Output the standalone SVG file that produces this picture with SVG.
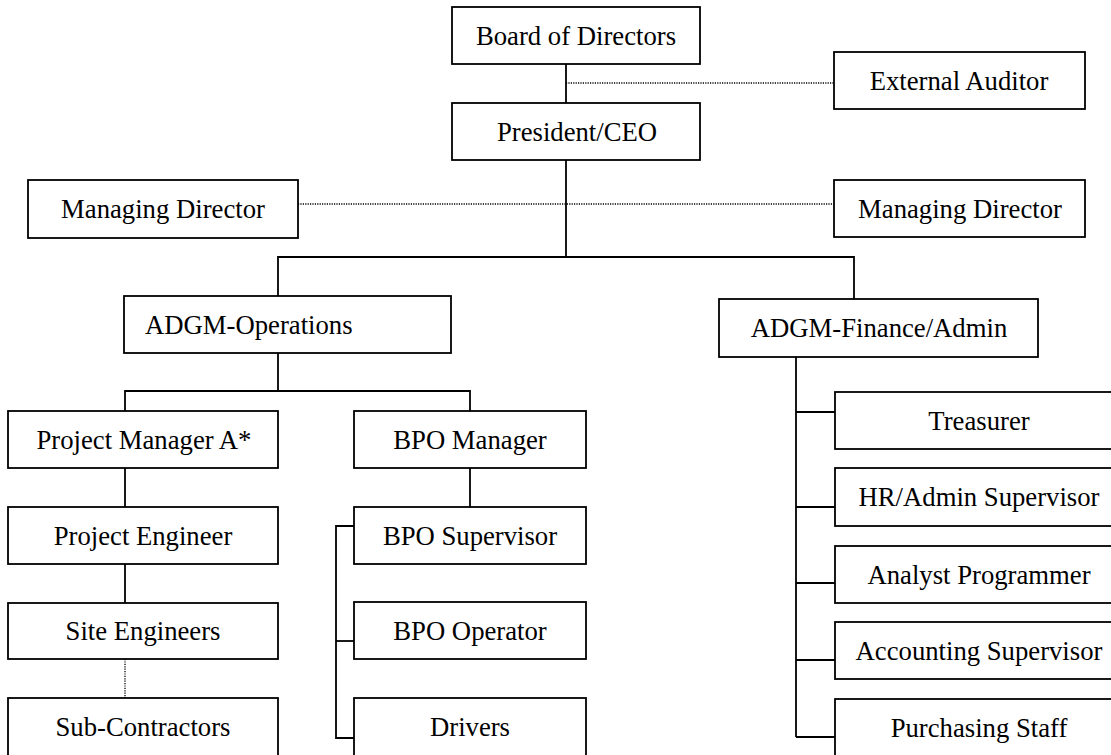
<svg xmlns="http://www.w3.org/2000/svg" width="1111" height="755" viewBox="0 0 1111 755">
  <style>
    .box { fill: #ffffff; stroke: #000000; stroke-width: 1.8; }
    .lbl { font-family: "Liberation Serif", "Times New Roman", serif; font-size: 26.7px; fill: #000000; text-anchor: middle; }
    .line { fill: none; stroke: #000000; stroke-width: 1.8; }
    .dot { fill: none; stroke: #000000; stroke-width: 1.3; stroke-dasharray: 1.2 1.2; }
  </style>
  <rect width="1111" height="755" fill="#ffffff"/>

  <!-- connectors -->
  <g id="connectors">
    <path class="line" d="M566 64 V103"/>
    <path class="dot" d="M566 83 H834"/>
    <path class="line" d="M566 160 V257"/>
    <path class="dot" d="M298 204 H834"/>
    <path class="line" d="M278 296 V257 H854 V299"/>
    <path class="line" d="M278 353 V391"/>
    <path class="line" d="M125 411 V391 H470 V411"/>
    <path class="line" d="M125 468 V507"/>
    <path class="line" d="M125 564 V603"/>
    <path class="dot" d="M125 659 V698"/>
    <path class="line" d="M470 468 V507"/>
    <path class="line" d="M354 526 H336 V738 H354"/>
    <path class="line" d="M336 641 H354"/>
    <path class="line" d="M796 357 V737"/>
    <path class="line" d="M796 412 H835"/>
    <path class="line" d="M796 507 H835"/>
    <path class="line" d="M796 583 H835"/>
    <path class="line" d="M796 660 H835"/>
    <path class="line" d="M796 737 H835"/>
  </g>

  <g id="board">
    <rect class="box" x="452" y="7" width="248" height="57"/>
    <text class="lbl" x="576" y="45">Board of Directors</text>
  </g>
  <g id="auditor">
    <rect class="box" x="834" y="52" width="251" height="57"/>
    <text class="lbl" x="959" y="90">External Auditor</text>
  </g>
  <g id="president">
    <rect class="box" x="452" y="103" width="248" height="57"/>
    <text class="lbl" x="577" y="141">President/CEO</text>
  </g>
  <g id="md-left">
    <rect class="box" x="28" y="180" width="270" height="58"/>
    <text class="lbl" x="163" y="218">Managing Director</text>
  </g>
  <g id="md-right">
    <rect class="box" x="834" y="180" width="251" height="57"/>
    <text class="lbl" x="960" y="218">Managing Director</text>
  </g>
  <g id="ops">
    <rect class="box" x="124" y="296" width="327" height="57"/>
    <text class="lbl" x="145" y="334" style="text-anchor:start">ADGM-Operations</text>
  </g>
  <g id="finance">
    <rect class="box" x="719" y="299" width="319" height="58"/>
    <text class="lbl" x="879" y="337">ADGM-Finance/Admin</text>
  </g>
  <g id="pm">
    <rect class="box" x="8" y="411" width="270" height="57"/>
    <text class="lbl" x="144" y="449">Project Manager A*</text>
  </g>
  <g id="proj-eng">
    <rect class="box" x="8" y="507" width="270" height="57"/>
    <text class="lbl" x="143" y="545">Project Engineer</text>
  </g>
  <g id="site-eng">
    <rect class="box" x="8" y="603" width="270" height="56"/>
    <text class="lbl" x="143" y="640">Site Engineers</text>
  </g>
  <g id="subcon">
    <rect class="box" x="8" y="698" width="270" height="70"/>
    <text class="lbl" x="143" y="736">Sub-Contractors</text>
  </g>
  <g id="bpo-mgr">
    <rect class="box" x="354" y="411" width="232" height="57"/>
    <text class="lbl" x="470" y="449">BPO Manager</text>
  </g>
  <g id="bpo-sup">
    <rect class="box" x="354" y="507" width="232" height="57"/>
    <text class="lbl" x="470" y="545">BPO Supervisor</text>
  </g>
  <g id="bpo-op">
    <rect class="box" x="354" y="602" width="232" height="57"/>
    <text class="lbl" x="470" y="640">BPO Operator</text>
  </g>
  <g id="drivers">
    <rect class="box" x="354" y="698" width="232" height="70"/>
    <text class="lbl" x="470" y="736">Drivers</text>
  </g>
  <g id="treasurer">
    <rect class="box" x="835" y="392" width="290" height="57"/>
    <text class="lbl" x="979" y="430">Treasurer</text>
  </g>
  <g id="hr">
    <rect class="box" x="835" y="468" width="290" height="58"/>
    <text class="lbl" x="979" y="506">HR/Admin Supervisor</text>
  </g>
  <g id="analyst">
    <rect class="box" x="835" y="546" width="290" height="57"/>
    <text class="lbl" x="979" y="584">Analyst Programmer</text>
  </g>
  <g id="accounting">
    <rect class="box" x="835" y="622" width="290" height="57"/>
    <text class="lbl" x="979" y="660">Accounting Supervisor</text>
  </g>
  <g id="purchasing">
    <rect class="box" x="835" y="699" width="290" height="70"/>
    <text class="lbl" x="979" y="737">Purchasing Staff</text>
  </g>
</svg>
